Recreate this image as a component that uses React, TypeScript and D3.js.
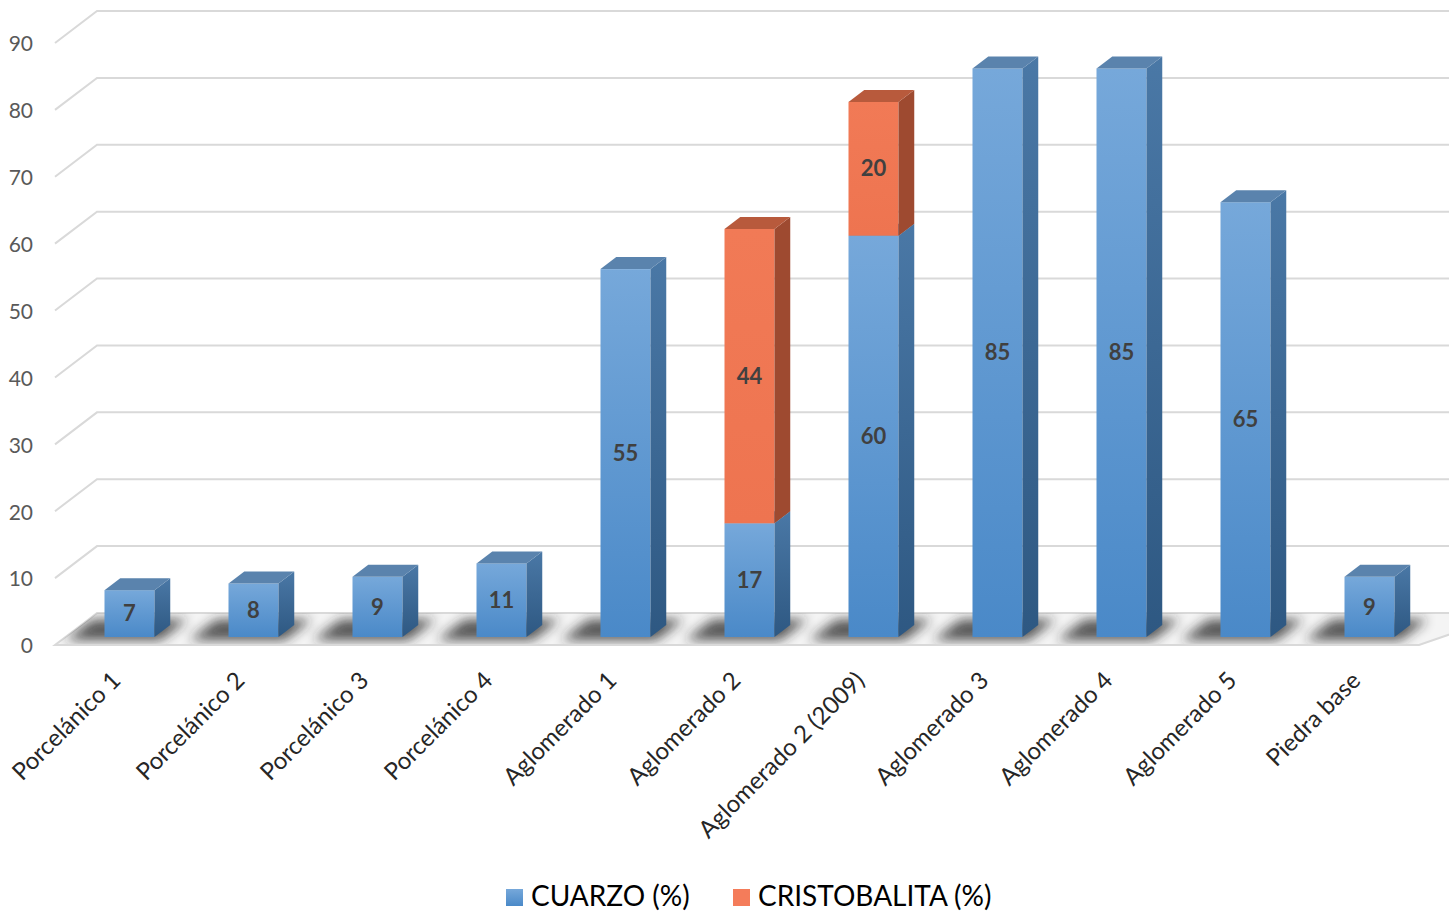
import React from "react";
import * as d3 from "d3";

const categories = [
  "Porcelánico 1",
  "Porcelánico 2",
  "Porcelánico 3",
  "Porcelánico 4",
  "Aglomerado 1",
  "Aglomerado 2",
  "Aglomerado 2 (2009)",
  "Aglomerado 3",
  "Aglomerado 4",
  "Aglomerado 5",
  "Piedra base",
];
const cuarzo = [7, 8, 9, 11, 55, 17, 60, 85, 85, 65, 9];
const cristobalita = [0, 0, 0, 0, 0, 44, 20, 0, 0, 0, 0];
const yTicks = [0, 10, 20, 30, 40, 50, 60, 70, 80, 90];
const seriesNames = ["CUARZO (%)", "CRISTOBALITA (%)"];

const W = 1449;
const H = 913;
const DX = 42; // full depth offset x
const DY = 32; // full depth offset y
const T0 = 0.25;
const T1 = 0.625;
const FONT = "Lato, 'Open Sans', sans-serif";

export default function App() {
  const y = d3.scaleLinear().domain([0, 90]).range([645, 43]);
  const x = d3.scaleBand<string>().domain(categories).range([55, 1419]);
  const barW = 50;
  const proj = (px: number, v: number, t: number): [number, number] => [px + DX * t, y(v) - DY * t];

  const stacks = d3.stack<any>().keys(["c", "r"])(
    categories.map((c, i) => ({ cat: c, c: cuarzo[i], r: cristobalita[i] }))
  );

  const floorPts = [proj(55, 0, 0), proj(1419, 0, 0), proj(1470, 0, 1), proj(55, 0, 1)];

  const colors = [
    { front: "url(#gBlue)", side: "url(#gBlueSide)", top: "#5a83ad" },
    { front: "url(#gOrange)", side: "#9e4a30", top: "#b85a3c" },
  ];

  return (
    <svg width={W} height={H} style={{ position: "absolute", left: 0, top: 0, background: "#fff" }}>
      <defs>
        <linearGradient id="gBlue" x1="0" y1="0" x2="0" y2="1">
          <stop offset="0" stopColor="#76a8da" />
          <stop offset="1" stopColor="#4a89c8" />
        </linearGradient>
        <linearGradient id="gBlueSide" x1="0" y1="0" x2="0" y2="1">
          <stop offset="0" stopColor="#4a78a6" />
          <stop offset="1" stopColor="#2e5882" />
        </linearGradient>
        <linearGradient id="gOrange" x1="0" y1="0" x2="0" y2="1">
          <stop offset="0" stopColor="#f17a56" />
          <stop offset="1" stopColor="#ee7450" />
        </linearGradient>
        <linearGradient id="gLegBlue" x1="0" y1="0" x2="0" y2="1">
          <stop offset="0" stopColor="#76a8da" />
          <stop offset="1" stopColor="#4a89c8" />
        </linearGradient>
        <filter id="blur" x="-50%" y="-50%" width="200%" height="200%">
          <feGaussianBlur stdDeviation="6" />
        </filter>
        <clipPath id="floorClip">
          <polygon points={floorPts.map((p) => p.join(",")).join(" ")} />
        </clipPath>
      </defs>

      {/* gridlines */}
      {yTicks.filter((v) => v > 0).map((v) => {
        const a = proj(55, v, 0);
        const b = proj(55, v, 1);
        return (
          <polyline
            key={v}
            points={`${a[0]},${a[1]} ${b[0]},${b[1]} ${W + 10},${b[1]}`}
            fill="none"
            stroke="#d9d9d9"
            strokeWidth={2}
          />
        );
      })}

      {/* floor */}
      <polygon
        points={floorPts.map((p) => p.join(",")).join(" ")}
        fill="#f4f4f4"
        stroke="#d9d9d9"
        strokeWidth={2}
      />
      <g clipPath="url(#floorClip)">
        {categories.map((c) => {
          const cx = (x(c) as number) + x.bandwidth() / 2 - barW / 2 + 2;
          const pts = [
            proj(cx - 35, 0, 0.15),
            proj(cx + barW + 10, 0, 0.15),
            proj(cx + barW + 10, 0, 0.8),
            proj(cx - 35, 0, 0.8),
          ];
          return (
            <polygon
              key={c}
              points={pts.map((p) => p.join(",")).join(" ")}
              fill="#222"
              opacity={0.75}
              filter="url(#blur)"
            />
          );
        })}
      </g>
      <line x1={55} x2={1419} y1={y(0)} y2={y(0)} stroke="#d9d9d9" strokeWidth={2} />

      {/* y tick labels */}
      {yTicks.map((v) => (
        <text
          key={v}
          x={33}
          y={y(v) + 1}
          dy="0.35em"
          textAnchor="end"
          fontFamily={FONT}
          fontSize={21}
          fill="#595959"
        >
          {v}
        </text>
      ))}

      {/* bars */}
      {categories.map((c, i) => {
        const bx = (x(c) as number) + x.bandwidth() / 2 - barW / 2 + 2;
        return (
          <g key={c}>
            {stacks.map((s, si) => {
              const d = s[i];
              if (d[1] - d[0] <= 0) return null;
              const [fx0, fyTop] = proj(bx, d[1], T0);
              const [, fyBot] = proj(bx, d[0], T0);
              const fx1 = fx0 + barW;
              const ox = DX * (T1 - T0);
              const oy = DY * (T1 - T0);
              const col = colors[si];
              return (
                <g key={si}>
                  <rect x={fx0} y={fyTop} width={barW} height={fyBot - fyTop} fill={col.front} />
                  <polygon
                    points={`${fx1},${fyTop} ${fx1 + ox},${fyTop - oy} ${fx1 + ox},${fyBot - oy} ${fx1},${fyBot}`}
                    fill={col.side}
                  />
                  <polygon
                    points={`${fx0},${fyTop} ${fx0 + ox},${fyTop - oy} ${fx1 + ox},${fyTop - oy} ${fx1},${fyTop}`}
                    fill={col.top}
                  />
                  <text
                    x={fx0 + barW / 2}
                    y={(fyTop + fyBot) / 2}
                    dy="0.35em"
                    textAnchor="middle"
                    fontFamily={FONT}
                    fontWeight="bold"
                    fontSize={22}
                    fill="#404040"
                  >
                    {d[1] - d[0]}
                  </text>
                </g>
              );
            })}
          </g>
        );
      })}

      {/* category labels */}
      {categories.map((c) => {
        const cx = (x(c) as number) + x.bandwidth() / 2 + 5;
        return (
          <text
            key={c}
            transform={`translate(${cx},${682}) rotate(-45)`}
            textAnchor="end"
            fontFamily={FONT}
            fontSize={24}
            fill="#262626"
          >
            {c}
          </text>
        );
      })}

      {/* legend */}
      {seriesNames.map((n, i) => {
        const lx = [506, 733][i];
        return (
          <g key={n}>
            <rect x={lx} y={889} width={17} height={17} fill={i === 0 ? "url(#gLegBlue)" : "#f47c5a"} />
            <text x={lx + 25} y={906} fontFamily={FONT} fontSize={28} fill="#000">
              {n}
            </text>
          </g>
        );
      })}
    </svg>
  );
}
